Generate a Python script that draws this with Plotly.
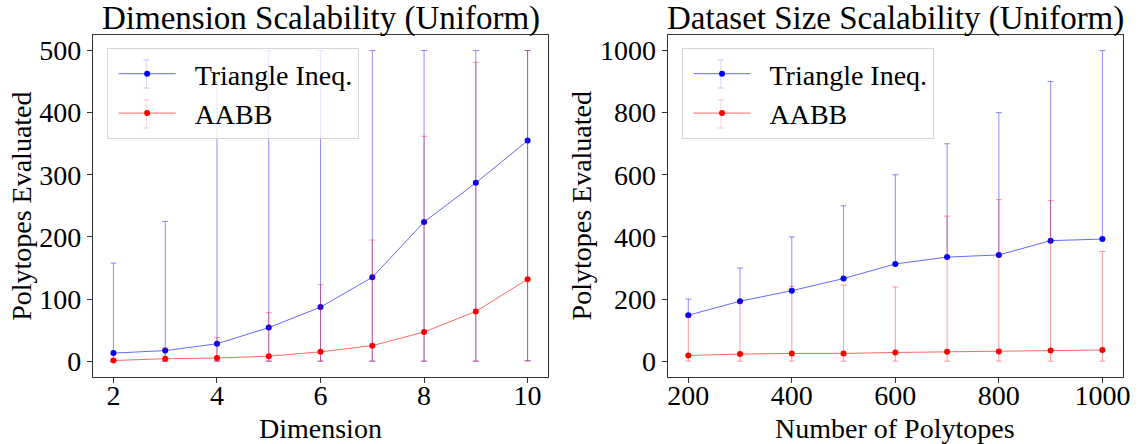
import plotly.graph_objects as go

# ---- data: Dimension scalability ----
dims = [2, 3, 4, 5, 6, 7, 8, 9, 10]
tri_dim_mean = [13, 17, 28, 54, 87, 135, 224, 287, 355]
tri_dim_max = [158, 225, 449, 500, 500, 500, 500, 500, 500]
tri_dim_min = [0, 0, 0, 0, 0, 0, 0, 0, 1]
aabb_dim_mean = [1, 4, 5, 8, 15, 25, 47, 80, 132]
aabb_dim_max = [4, 21, 38, 78, 123, 195, 362, 481, 500]
aabb_dim_min = [0, 0, 0, 0, 0, 0, 0, 0, 0]

# ---- data: Dataset size scalability ----
sizes = [200, 300, 400, 500, 600, 700, 800, 900, 1000]
tri_size_mean = [148, 193, 227, 266, 313, 335, 342, 388, 393]
tri_size_max = [200, 300, 400, 500, 600, 700, 800, 900, 1000]
tri_size_min = [148, 193, 227, 266, 313, 335, 342, 388, 393]
aabb_size_mean = [18, 23, 25, 25, 28, 30, 31, 34, 36]
aabb_size_max = [142, 188, 241, 245, 239, 467, 520, 517, 353]
aabb_size_min = [0, 0, 0, 0, 0, 0, 0, 0, 0]

series_names = ["Triangle Ineq.", "AABB"]

W, H = 1143, 444
FONT = "Liberation Serif, Times New Roman, serif"
BLUE = "#0000ff"
RED = "#ff0000"
PAD = "\u00a0\u00a0"


def err(mean, hi, lo, color):
    return dict(type="data", symmetric=False,
                array=[h - m for h, m in zip(hi, mean)],
                arrayminus=[m - l for m, l in zip(mean, lo)],
                color=color, thickness=1, width=3)


fig = go.Figure()


def add(x, mean, hi, lo, name, col, lcol, ecol, xa, ya, leg, grp):
    fig.add_trace(go.Scatter(x=x, y=mean, mode="lines+markers", name=PAD + name,
                             line=dict(color=lcol, width=1),
                             marker=dict(color=col, size=6),
                             error_y=err(mean, hi, lo, ecol),
                             xaxis=xa, yaxis=ya, legend=leg, legendgroup=grp))


add(dims, tri_dim_mean, tri_dim_max, tri_dim_min, series_names[0], BLUE,
    "rgba(0,0,255,0.6)", "rgba(0,0,255,0.45)", "x", "y", "legend", "a")
add(dims, aabb_dim_mean, aabb_dim_max, aabb_dim_min, series_names[1], RED,
    "rgba(255,0,0,0.6)", "rgba(255,0,0,0.4)", "x", "y", "legend", "b")
add(sizes, tri_size_mean, tri_size_max, tri_size_min, series_names[0], BLUE,
    "rgba(0,0,255,0.6)", "rgba(0,0,255,0.45)", "x2", "y2", "legend2", "c")
add(sizes, aabb_size_mean, aabb_size_max, aabb_size_min, series_names[1], RED,
    "rgba(255,0,0,0.6)", "rgba(255,0,0,0.4)", "x2", "y2", "legend2", "d")

L1, R1 = 93.3, 551.7
L2, R2 = 671.7, 1130.0
TOP, BOT = 35.0, 376.7
y_dom = [1 - BOT / H, 1 - TOP / H]
TS = 28
axis_common = dict(showgrid=False, zeroline=False, showline=True, linecolor="#333333", linewidth=1,
                   mirror=True, ticks="outside", ticklen=5, tickcolor="#333333", tickwidth=1,
                   tickfont=dict(family=FONT, size=TS, color="black"))

LEG_TOP = 48.0
leg_common = dict(xanchor="left", yanchor="top", bgcolor="rgba(255,255,255,0.8)",
                  bordercolor="#d5d5d5", borderwidth=1,
                  font=dict(family=FONT, size=TS, color="black"),
                  itemwidth=57, tracegroupgap=0, indentation=6)

fig.update_layout(
    width=W, height=H,
    margin=dict(l=0, r=0, t=0, b=0),
    paper_bgcolor="white", plot_bgcolor="white",
    font=dict(family=FONT, color="black"),
    xaxis=dict(domain=[L1 / W, R1 / W], range=[1.6, 10.4], tickvals=[2, 4, 6, 8, 10], anchor="y",
               ticklabelstandoff=-11, **axis_common),
    yaxis=dict(domain=y_dom, range=[-25, 525], tickvals=[0, 100, 200, 300, 400, 500], anchor="x",
               ticklabelstandoff=0, **axis_common),
    xaxis2=dict(domain=[L2 / W, R2 / W], range=[160, 1040], tickvals=[200, 400, 600, 800, 1000], anchor="y2",
                ticklabelstandoff=-11, **axis_common),
    yaxis2=dict(domain=y_dom, range=[-50, 1050], tickvals=[0, 200, 400, 600, 800, 1000], anchor="x2",
                ticklabelstandoff=0, **axis_common),
    legend=dict(x=107.3 / W, y=1 - LEG_TOP / H, **leg_common),
    legend2=dict(x=685.7 / W, y=1 - LEG_TOP / H, **leg_common),
    showlegend=True,
)


def ann(text, x, y, size=TS, angle=0):
    fig.add_annotation(text=text, x=x / W, y=1 - y / H, xref="paper", yref="paper",
                       xanchor="center", yanchor="middle", textangle=angle,
                       showarrow=False, font=dict(family=FONT, size=size, color="black"))


ann("Dimension Scalability (Uniform)", (L1 + R1) / 2, 18, size=33)
ann("Dataset Size Scalability (Uniform)", (L2 + R2) / 2, 18, size=33)
ann("Dimension", (L1 + R1) / 2, 428)
ann("Number of Polytopes", (L2 + R2) / 2, 428)
ann("Polytopes Evaluated", 22, 206, angle=-90)
ann("Polytopes Evaluated", 586, 206, angle=-90)

# error-bar glyphs on the legend symbols (decoration)
for mx in (147.3, 725.3):
    for cy, c in ((LEG_TOP + 26, "rgba(0,0,255,0.8)"), (LEG_TOP + 66, "rgba(255,0,0,0.8)")):
        fig.add_shape(type="line", xref="paper", yref="paper", x0=mx / W, x1=mx / W,
                      y0=1 - (cy - 14) / H, y1=1 - (cy + 14) / H, line=dict(color=c, width=1))
        for dy in (-14, 14):
            fig.add_shape(type="line", xref="paper", yref="paper", x0=(mx - 3) / W, x1=(mx + 3) / W,
                          y0=1 - (cy + dy) / H, y1=1 - (cy + dy) / H, line=dict(color=c, width=1.5))

fig.write_html("out.html")
